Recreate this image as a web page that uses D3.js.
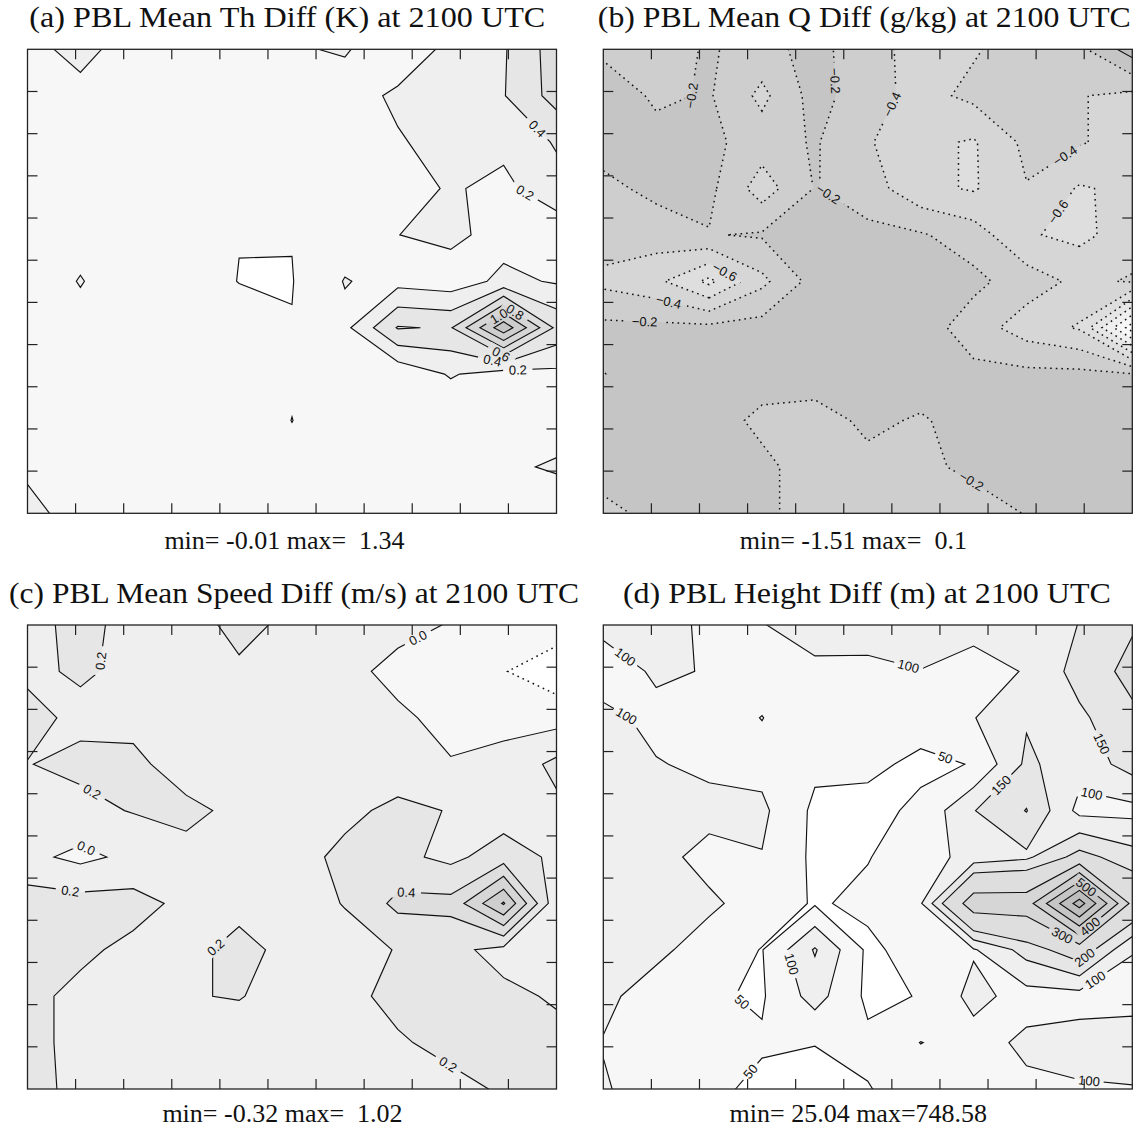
<!DOCTYPE html>
<html>
<head>
<meta charset="utf-8">
<script src="https://cdn.jsdelivr.net/npm/d3@7"></script>
<style>
  body { margin: 0; background: #fff; }
</style>
</head>
<body>
<div id="chart"></div>
<script>
// size of the page and of each plot frame
const WIDTH = 1142;
const HEIGHT = 1128;
const PANEL_W = 529;
const PANEL_H = 464;
const COL_X = [27.5, 603.3];
const ROW_Y = [49.3, 625];

// data grid is 11 x 11 nodes, frame edges on the first/last node
const NX = 11;
const NY = 11;

// grey fill for each band, lowest band first
const GRAYS = ["#ffffff", "#f7f7f7", "#efefef", "#e6e6e6", "#dedede",
               "#d6d6d6", "#cecece", "#c5c5c5", "#bdbdbd", "#b5b5b5"];

// ---- (a) PBL mean theta difference (K), rows top to bottom
const thGrid = [
  [0.10, 0.30, 0.05, 0.08, 0.08, 0.18, 0.22, 0.05, 0.26, 0.38, 0.70],
  [0.08, 0.10, 0.08, 0.10, 0.10, 0.10, 0.10, 0.24, 0.30, 0.39, 0.68],
  [0.10, 0.10, 0.10, 0.10, 0.10, 0.10, 0.10, 0.18, 0.28, 0.25, 0.42],
  [0.10, 0.10, 0.10, 0.10, 0.10, 0.10, 0.10, 0.12, 0.22, 0.15, 0.33],
  [0.10, 0.10, 0.10, 0.10, 0.005, 0.006, 0.10, 0.198, 0.25, 0.12, 0.06],
  [0.02, 0.215, 0.02, 0.10, -0.005, -0.007, 0.21, 0.133, 0.09, 0.25, 0.18],
  [0.10, 0.10, 0.10, 0.10, 0.10, 0.007, 0.148, 0.615, 0.58, 1.34, 0.55],
  [0.10, 0.10, 0.10, 0.10, 0.10, 0.023, 0.10, 0.05, 0.22, 0.10, 0.15],
  [0.10, 0.10, 0.10, 0.10, 0.10, -0.002, 0.10, 0.10, 0.02, 0.10, 0.12],
  [0.17, 0.10, 0.10, 0.10, 0.10, 0.048, 0.10, 0.10, 0.10, 0.17, 0.22],
  [0.25, 0.13, 0.10, 0.10, 0.10, 0.10, 0.10, 0.10, 0.10, 0.10, 0.087]
];
const thLevels = [0, 0.2, 0.4, 0.6, 0.8, 1.0, 1.2];
// label anchors: [column, row, level]
const thLabels = [[9.55, 1.81, 0.4], [9.41, 3.08, 0.2], [9.27, 6.95, 0.2],
                  [8.78, 6.75, 0.4], [8.95, 6.58, 0.6], [9.2, 5.69, 0.8], [8.92, 5.77, 1.0]];

// ---- (b) PBL mean Q difference (g/kg)
const qGrid = [
  [-0.25, -0.28, -0.18, -0.28, -0.12, -0.35, -0.45, -0.42, -0.30, -0.25, 0.10],
  [-0.05, -0.24, -0.18, -0.45, -0.12, -0.32, -0.47, -0.35, -0.30, -0.39, -0.45],
  [-0.12, -0.12, -0.15, -0.30, -0.18, -0.38, -0.55, -0.62, -0.35, -0.38, -0.50],
  [-0.25, -0.15, -0.15, -0.50, -0.19, -0.30, -0.55, -0.62, -0.41, -0.62, -0.55],
  [-0.30, -0.30, -0.21, -0.18, -0.10, -0.15, -0.18, -0.30, -0.58, -0.65, -0.50],
  [-0.45, -0.55, -0.85, -0.45, -0.12, -0.10, -0.10, -0.15, -0.30, -0.45, -0.38],
  [-0.15, -0.15, -0.15, -0.12, -0.10, -0.10, -0.10, -0.30, -0.50, -0.62, -1.51],
  [-0.205, -0.10, -0.10, -0.10, -0.10, -0.10, -0.10, -0.15, -0.15, -0.15, -0.19],
  [-0.12, -0.10, -0.10, -0.25, -0.28, -0.16, -0.22, -0.12, -0.10, -0.10, -0.10],
  [-0.12, -0.10, -0.10, -0.15, -0.30, -0.25, -0.25, -0.15, -0.12, -0.10, -0.10],
  [-0.25, -0.15, -0.10, -0.15, -0.30, -0.30, -0.30, -0.30, -0.19, -0.12, -0.10]
];
const qLevels = [-1.4, -1.2, -1.0, -0.8, -0.6, -0.4, -0.2, 0];
const qLabels = [[1.86, 1.12, -0.2], [4.24, 0.69, -0.2], [5.39, 1.15, -0.4],
                 [8.78, 2.38, -0.4], [8.78, 3.65, -0.6], [4.17, 3.27, -0.2],
                 [2.31, 4.77, -0.6], [1.22, 5.52, -0.4], [0.78, 5.92, -0.2], [6.98, 9.27, -0.2]];

// ---- (c) PBL mean speed difference (m/s)
const spdGrid = [
  [0.10, 0.29, 0.10, 0.05, 0.30, 0.12, 0.10, 0.05, -0.01, -0.10, -0.10],
  [0.17, 0.22, 0.164, 0.10, 0.144, 0.10, 0.05, -0.05, -0.10, -0.19, -0.32],
  [0.25, 0.16, 0.15, 0.10, 0.10, 0.10, 0.08, 0.03, -0.05, -0.06, -0.08],
  [0.195, 0.24, 0.24, 0.12, 0.10, 0.10, 0.10, 0.08, 0.01, 0.06, 0.25],
  [0.15, 0.15, 0.21, 0.24, 0.16, 0.10, 0.15, 0.25, 0.19, 0.10, 0.157],
  [0.05, -0.05, 0.05, 0.15, 0.10, 0.12, 0.25, 0.25, 0.15, 0.30, 0.16],
  [0.30, 0.28, 0.27, 0.15, 0.12, 0.10, 0.21, 0.45, 0.46, 1.02, 0.05],
  [0.30, 0.24, 0.15, 0.12, 0.28, 0.12, 0.12, 0.21, 0.25, 0.14, 0.10],
  [0.25, 0.15, 0.10, 0.19, 0.21, 0.12, 0.15, 0.25, 0.26, 0.24, 0.18],
  [0.25, 0.15, 0.10, 0.10, 0.10, 0.10, 0.12, 0.18, 0.25, 0.27, 0.25],
  [0.25, 0.16, 0.10, 0.10, 0.10, 0.10, 0.10, 0.12, 0.15, 0.22, 0.27]
];
const spdLevels = [-0.2, 0, 0.2, 0.4, 0.6, 0.8, 1.0];
const spdLabels = [[1.5, 0.79, 0.2], [7.41, 0.34, 0], [1.15, 3.73, 0.2], [1.12, 4.78, 0],
                   [0.8, 5.8, 0.2], [7.17, 5.57, 0.4], [3.6, 7.0, 0.2], [7.94, 9.49, 0.2]];

// ---- (d) PBL height difference (m)
const pblhGrid = [
  [115, 110, 95, 98, 120, 115, 120, 110, 101, 152, 195],
  [70, 108, 97, 80, 90, 92, 99, 88, 102, 170, 215],
  [115, 85, 80, 101, 70, 65, 70, 98, 145, 140, 190],
  [120, 103, 90, 85, 60, 60, 40, 52, 160, 120, 170],
  [120, 120, 115, 110, 40, 35, 60, 148, 202, 85, 85],
  [120, 115, 85, 98, 40, 48, 75, 120, 140, 220, 170],
  [120, 118, 108, 80, 45, 60, 95, 352, 350, 748, 270],
  [120, 110, 80, 48, 155, 40, 70, 95, 170, 240, 102],
  [110, 80, 55, 45, 120, 40, 52, 115, 80, 80, 85],
  [98, 80, 65, 55, 52, 60, 101, 80, 110, 120, 120],
  [104, 80, 60, 40, 26, 48, 70, 80, 90, 95, 98]
];
const pblhLevels = [50, 100, 150, 200, 300, 400, 500, 600, 700];
const pblhLabels = [[0.44, 0.65, 100], [5.76, 0.92, 100], [0.44, 1.96, 100], [6.47, 2.84, 50],
                    [9.32, 2.61, 150], [9.32, 3.19, 100], [7.53, 3.46, 150], [9.05, 5.76, 500],
                    [9.25, 6.57, 400], [8.68, 6.68, 300], [8.98, 6.99, 200], [8.98, 7.1, 100],
                    [3.36, 7.37, 100], [2.37, 8.45, 50], [2.88, 9.72, 50], [9.19, 9.72, 100]];

// titles and min/max notes
const TITLES = ["(a) PBL Mean Th Diff (K) at 2100 UTC",
                "(b) PBL Mean Q Diff (g/kg) at 2100 UTC",
                "(c) PBL Mean Speed Diff (m/s) at 2100 UTC",
                "(d) PBL Height Diff (m) at 2100 UTC"];
const TITLE_LEN = [516, 533, 570, 488];
const TITLE_X = [259.8, 261, 266.6, 263.6];
const NOTES = ["min= -0.01 max=  1.34",
               "min= -1.51 max=  0.1",
               "min= -0.32 max=  1.02",
               "min= 25.04 max=748.58"];
const NOTE_X = [257, 250, 255, 255];

const PANELS = [
  {grid: thGrid, levels: thLevels, labels: thLabels, digits: 1},
  {grid: qGrid, levels: qLevels, labels: qLabels, digits: 1},
  {grid: spdGrid, levels: spdLevels, labels: spdLabels, digits: 1},
  {grid: pblhGrid, levels: pblhLevels, labels: pblhLabels, digits: 0}
];

const svg = d3.select("#chart")
              .append("svg")
                .attr("width", WIDTH)
                .attr("height", HEIGHT)
                .style("display", "block");

const defs = svg.append("defs");

// builds one contour panel
function drawPanel(p, k) {
  const row = Math.floor(k / 2);
  const x0 = COL_X[k % 2];
  const y0 = ROW_Y[row];

  // contour coordinates: node i sits at i + 0.5
  const X_SCALE = d3.scaleLinear().domain([0.5, NX - 0.5]).range([0, PANEL_W]);
  const Y_SCALE = d3.scaleLinear().domain([0.5, NY - 0.5]).range([0, PANEL_H]);

  const path = d3.geoPath(d3.geoTransform({
    point: function(x, y) { this.stream.point(X_SCALE(x), Y_SCALE(y)); }
  }));

  const contours = d3.contours()
                     .size([NX, NY])
                     .thresholds(p.levels)(p.grid.flat());

  const g = svg.append("g")
               .attr("transform", "translate(" + x0 + "," + y0 + ")");

  defs.append("clipPath")
        .attr("id", "clip" + k)
      .append("rect")
        .attr("width", PANEL_W)
        .attr("height", PANEL_H);

  const inner = g.append("g").attr("clip-path", "url(#clip" + k + ")");

  // lowest band, then every band above a level
  inner.append("rect")
         .attr("width", PANEL_W)
         .attr("height", PANEL_H)
         .attr("fill", GRAYS[0]);

  inner.selectAll("path.band")
       .data(contours)
       .enter()
       .append("path")
         .attr("class", "band")
         .attr("d", path)
         .attr("fill", (d, i) => GRAYS[i + 1])
         .attr("stroke", "none");

  // contour labels: snap each anchor onto its line
  const fmt = (v) => {
    const s = v.toFixed(p.digits);
    return v < 0 ? "\u2212" + s.slice(1) : (s === "-0.0" ? "0.0" : s);
  };

  const placed = p.labels.map((lab) => {
    const c = contours.find((d) => Math.abs(d.value - lab[2]) < 1e-9);
    const ax = X_SCALE(lab[0] + 0.5), ay = Y_SCALE(lab[1] + 0.5);
    let best = null;
    c.coordinates.forEach((poly) => poly.forEach((ring) => {
      for (let i = 0; i < ring.length - 1; i++) {
        const x1 = X_SCALE(ring[i][0]), y1 = Y_SCALE(ring[i][1]);
        const x2 = X_SCALE(ring[i + 1][0]), y2 = Y_SCALE(ring[i + 1][1]);
        const dx = x2 - x1, dy = y2 - y1;
        const len2 = dx * dx + dy * dy;
        if (len2 < 1e-6) continue;
        let t = ((ax - x1) * dx + (ay - y1) * dy) / len2;
        t = Math.max(0, Math.min(1, t));
        const px = x1 + t * dx, py = y1 + t * dy;
        // keep labels clear of the frame
        if (px < 12 || px > PANEL_W - 12 || py < 8 || py > PANEL_H - 8) continue;
        const dist = (px - ax) * (px - ax) + (py - ay) * (py - ay);
        if (!best || dist < best.dist) {
          let ang = Math.atan2(dy, dx) * 180 / Math.PI;
          if (ang > 90) ang -= 180;
          if (ang <= -90) ang += 180;
          best = {x: px, y: py, ang: ang, dist: dist};
        }
      }
    }));
    if (!best) best = {x: ax, y: ay, ang: 0};
    best.text = fmt(lab[2]);
    return best;
  });

  // mask cuts a gap in the lines under each label
  const mask = defs.append("mask")
                     .attr("id", "mask" + k)
                     .attr("maskUnits", "userSpaceOnUse")
                     .attr("x", -5).attr("y", -5)
                     .attr("width", PANEL_W + 10).attr("height", PANEL_H + 10);
  mask.append("rect")
        .attr("x", -5).attr("y", -5)
        .attr("width", PANEL_W + 10)
        .attr("height", PANEL_H + 10)
        .attr("fill", "#fff");
  mask.selectAll("rect.gap")
      .data(placed)
      .enter()
      .append("rect")
        .attr("class", "gap")
        .attr("x", (d) => -d.text.length * 3.9 - 3)
        .attr("y", -6)
        .attr("width", (d) => d.text.length * 7.8 + 6)
        .attr("height", 12)
        .attr("transform", (d) => "translate(" + d.x + "," + d.y + ") rotate(" + d.ang + ")")
        .attr("fill", "#000");

  inner.append("g")
         .attr("mask", "url(#mask" + k + ")")
       .selectAll("path.line")
       .data(contours)
       .enter()
       .append("path")
         .attr("class", "line")
         .attr("d", path)
         .attr("fill", "none")
         .attr("stroke", "#111")
         .attr("stroke-width", (d) => d.value < 0 ? 1.5 : 1.15)
         .attr("stroke-dasharray", (d) => d.value < 0 ? "1.6,4" : null);

  inner.selectAll("text.lab")
       .data(placed)
       .enter()
       .append("text")
         .attr("class", "lab")
         .attr("transform", (d) => "translate(" + d.x + "," + d.y + ") rotate(" + d.ang + ")")
         .attr("text-anchor", "middle")
         .attr("dy", "0.36em")
         .attr("font-family", "'Liberation Sans', Arial, sans-serif")
         .attr("font-size", "13px")
         .attr("fill", "#111")
         .text((d) => d.text);

  // frame with inward ticks on all four sides
  const ticks = d3.range(1, 11);
  const tg = g.append("g").attr("stroke", "#222").attr("stroke-width", 1.2);
  ticks.forEach((i) => {
    const tx = i * PANEL_W / 11;
    const ty = i * PANEL_H / 11;
    tg.append("line").attr("x1", tx).attr("x2", tx).attr("y1", PANEL_H).attr("y2", PANEL_H - 10);
    tg.append("line").attr("x1", tx).attr("x2", tx).attr("y1", 0).attr("y2", 10);
    tg.append("line").attr("x1", 0).attr("x2", 10).attr("y1", ty).attr("y2", ty);
    tg.append("line").attr("x1", PANEL_W).attr("x2", PANEL_W - 10).attr("y1", ty).attr("y2", ty);
  });

  g.append("rect")
     .attr("width", PANEL_W)
     .attr("height", PANEL_H)
     .attr("fill", "none")
     .attr("stroke", "#222")
     .attr("stroke-width", 1.3);

  // title above, min/max note below
  g.append("text")
     .attr("x", TITLE_X[k])
     .attr("y", -22)
     .attr("text-anchor", "middle")
     .attr("font-family", "'Liberation Serif', 'Times New Roman', serif")
     .attr("font-size", "30px")
     .attr("textLength", TITLE_LEN[k])
     .attr("lengthAdjust", "spacingAndGlyphs")
     .attr("fill", "#111")
     .text(TITLES[k]);

  g.append("text")
     .attr("x", NOTE_X[k])
     .attr("y", PANEL_H + (row === 0 ? 36 : 33))
     .attr("text-anchor", "middle")
     .attr("font-family", "'Liberation Serif', 'Times New Roman', serif")
     .attr("font-size", "26px")
     .attr("fill", "#111")
     .style("white-space", "pre")
     .text(NOTES[k]);
}

PANELS.forEach(drawPanel);
</script>
</body>
</html>
